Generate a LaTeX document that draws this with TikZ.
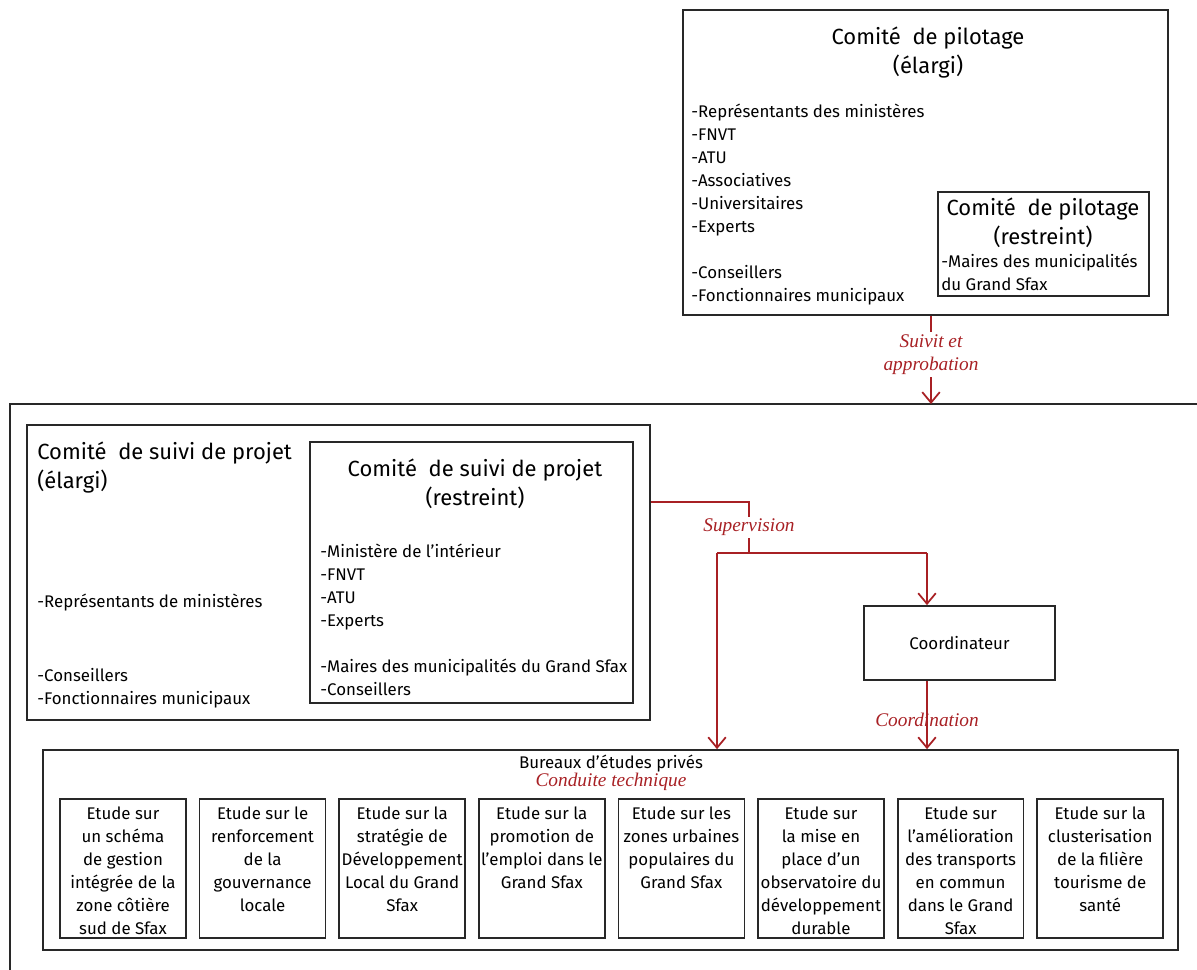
\documentclass[tikz,border=0pt]{standalone}
\usepackage{fontspec}
\setmainfont{Fira Sans}
\newfontfamily\italique{Liberation Serif}
\usetikzlibrary{arrows.meta,positioning}
\definecolor{rouge}{RGB}{168,32,36}
\definecolor{trait}{RGB}{40,40,40}

\begin{document}
\begin{tikzpicture}[x=0.02cm,y=-0.02cm,
    cadre/.style={draw=trait,line width=1pt,inner sep=0pt},
    titre/.style={align=center,font=\fontsize{12.5}{16.5}\selectfont,inner sep=0pt},
    titregauche/.style={align=left,font=\fontsize{12.5}{16.5}\selectfont,inner sep=0pt,anchor=west},
    liste/.style={align=left,font=\fontsize{9.6}{13.09}\selectfont,inner sep=0pt,anchor=west},
    lien/.style={draw=rouge,line width=1pt},
    fleche/.style={lien,-{Straight Barb[length=6pt,width=10pt]}},
    etiquette/.style={text=rouge,font=\italique\itshape\fontsize{11}{13.6}\selectfont,align=center,inner sep=1pt},
    etude/.style={cadre,anchor=north,minimum width=2.52cm,minimum height=2.78cm,inner xsep=0pt,inner ysep=0.16cm,font=\fontsize{9.6}{13.09}\selectfont}]
    \useasboundingbox (0,0) rectangle (1197,970);

    % 指导委员会
    \node[cadre,minimum width=9.7cm,minimum height=6.1cm] (pilotage) at (925.5,162.5) {};
    \node[titre] (pilotage-titre) at (928,52.5) {Comité\ \ de pilotage\\(élargi)};
    \node[liste] (pilotage-liste) at (691,205) {-Représentants des ministères\\-FNVT\\-ATU\\-Associatives\\-Universitaires\\-Experts\\[13.09pt]-Conseillers\\-Fonctionnaires municipaux};
    \node[cadre,minimum width=4.22cm,minimum height=2.08cm] (pilotage-r) at (1043.5,244) {};
    \node[titre] (pilotage-r-titre) at (1043,222.5) {Comité\ \ de pilotage\\(restreint)};
    \node[liste] (pilotage-r-liste) at (941,272.5) {-Maires des municipalités\\du Grand Sfax};

    % 外框
    \draw[draw=trait,line width=1pt] (10,970) |- (1197,404);
    \coordinate (entree) at (931,404);
    \draw[fleche] (pilotage.south -| entree) -- node[etiquette,fill=white,pos=0.44] (suivi-lbl) {Suivit et\\approbation} (entree);

    % 项目跟踪委员会
    \node[cadre,minimum width=12.46cm,minimum height=5.9cm] (suivi) at (338.5,572.5) {};
    \node[titregauche] (suivi-titre) at (37,467.5) {Comité\ \ de suivi de projet\\(élargi)};
    \node[liste] (suivi-l1) at (37,603) {-Représentants de ministères};
    \node[liste] (suivi-l2) at (37,688.5) {-Conseillers\\-Fonctionnaires municipaux};
    \node[cadre,minimum width=6.46cm,minimum height=5.22cm] (suivi-r) at (471.5,572.5) {};
    \node[titre] (suivi-r-titre) at (475,484) {Comité\ \ de suivi de projet\\(restreint)};
    \node[liste] (suivi-r-liste) at (320,620) {-Ministère de l’intérieur\\-FNVT\\-ATU\\-Experts\\[13.09pt]-Maires des municipalités du Grand Sfax\\-Conseillers};

    % 协调员
    \node[cadre,minimum width=3.82cm,minimum height=1.48cm,font=\fontsize{9.6}{13.09}\selectfont] (coord) at (959.5,643) {Coordinateur};

    % 研究机构
    \node[cadre,minimum width=22.7cm,minimum height=4cm] (bureaux) at (610.5,850) {};
    \node[liste,anchor=center] (bureaux-titre) at (611,764) {Bureaux d’études privés};
    \node[etiquette] (conduite) at (611,782) {Conduite technique};

    % 监督与协调
    \coordinate (sup-h) at (749,502);
    \coordinate (sup-b) at (749,553);
    \coordinate (sup-g) at (717,553);
    \coordinate (sup-d) at (927,553);
    \draw[lien] (suivi.east |- sup-h) -- (sup-h) -- node[etiquette,fill=white] (sup-lbl) {Supervision} (sup-b);
    \draw[lien] (sup-g) -- (sup-d);
    \draw[fleche] (sup-g) -- (sup-g |- bureaux.north);
    \draw[fleche] (sup-d) -- (sup-d |- coord.north);
    \draw[fleche] (sup-d |- coord.south) -- node[etiquette,pos=0.57] (coord-lbl) {Coordination} (sup-d |- bureaux.north);

    % 八项研究
    \foreach \t [count=\i from 0] in {%
        {Etude sur\\un schéma\\de gestion\\intégrée de la\\zone côtière\\sud de Sfax},
        {Etude sur le\\renforcement\\de la\\gouvernance\\locale},
        {Etude sur la\\stratégie de\\Développement\\Local du Grand\\Sfax},
        {Etude sur la\\promotion de\\l’emploi dans le\\Grand Sfax},
        {Etude sur les\\zones urbaines\\populaires du\\Grand Sfax},
        {Etude sur\\la mise en\\place d’un\\observatoire du\\développement\\durable},
        {Etude sur\\l’amélioration\\des transports\\en commun\\dans le Grand\\Sfax},
        {Etude sur la\\clusterisation\\de la filière\\tourisme de\\santé}}
        \node[etude] (etude-\i) at (123+139.6*\i,798) {\parbox[t][2.46cm][t]{2.52cm}{\centering\t}};
\end{tikzpicture}
\end{document}
